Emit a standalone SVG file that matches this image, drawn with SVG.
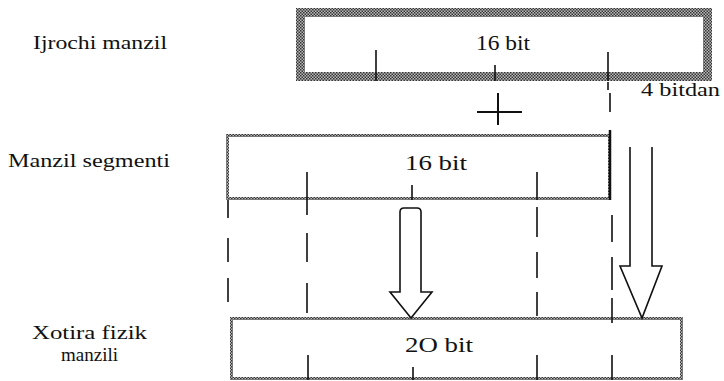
<svg xmlns="http://www.w3.org/2000/svg" width="724" height="381" viewBox="0 0 724 381">
<style>
text{font-family:"Liberation Serif","DejaVu Serif","Times New Roman",serif;fill:#111;}
.lbl{font-size:19px;}
.bx{font-size:21px;}
.tk{stroke:#111;stroke-width:1.6;fill:none;}
.ds{stroke:#111;stroke-width:1.6;fill:none;}
.ar{stroke:#111;stroke-width:1.6;fill:#fff;stroke-linejoin:miter;}
</style>
<defs>
<pattern id="dith" width="3" height="3" patternUnits="userSpaceOnUse">
<rect width="3" height="3" fill="#bbb"/>
<rect width="1.5" height="1.5" fill="#333"/>
<rect x="1.5" y="1.5" width="1.5" height="1.5" fill="#333"/>
</pattern>
</defs>
<rect width="724" height="381" fill="#fff"/>

<g id="labels">
<text class="lbl" x="33" y="49" textLength="134" lengthAdjust="spacingAndGlyphs" font-family="Liberation Serif, serif">Ijrochi manzil</text>
<text class="lbl" x="8" y="167" textLength="162" lengthAdjust="spacingAndGlyphs" font-family="Liberation Serif, serif">Manzil segmenti</text>
<text class="lbl" x="32" y="339" textLength="115" lengthAdjust="spacingAndGlyphs" font-family="Liberation Serif, serif">Xotira fizik</text>
<text class="lbl" x="61" y="361" textLength="57" lengthAdjust="spacingAndGlyphs" font-family="Liberation Serif, serif">manzili</text>
<text class="lbl" x="641" y="96" textLength="79" lengthAdjust="spacingAndGlyphs" font-family="Liberation Serif, serif">4 bitdan</text>
</g>

<g id="ijrochi">
<rect x="300.5" y="12.5" width="407" height="64" fill="none" stroke="url(#dith)" stroke-width="9"/>
<text class="bx" x="476" y="50" textLength="54" lengthAdjust="spacingAndGlyphs" font-family="Liberation Serif, serif">16 bit</text>
<path class="tk" d="M376,50V81 M495,65V81 M608,52V81"/>
</g>

<g id="segment">
<rect x="227.5" y="135.5" width="382" height="63" fill="none" stroke="url(#dith)" stroke-width="3"/>
<line x1="610" y1="130" x2="610" y2="200" stroke="#111" stroke-width="2.5"/>
<text class="bx" x="405" y="170" textLength="62" lengthAdjust="spacingAndGlyphs" font-family="Liberation Serif, serif">16 bit</text>
<path class="tk" d="M307,172V200 M412,185V200 M537,172V200"/>
</g>

<g id="fizik">
<rect x="231.5" y="318.5" width="450" height="60" fill="none" stroke="url(#dith)" stroke-width="3"/>
<text class="bx" x="405" y="352" textLength="68" lengthAdjust="spacingAndGlyphs" font-family="Liberation Serif, serif">2O bit</text>
<path class="tk" d="M308,355V380 M413,367V380 M537,355V380 M612,355V380"/>
</g>

<g id="plus">
<path d="M477,112H522 M498,93V125" stroke="#111" stroke-width="2" fill="none"/>
</g>

<g id="connectors">
<path class="ds" d="M608,82V90 M610,93V112"/>
<path class="ds" d="M228,200V218 M228,238V262 M228,278V302"/>
<path class="ds" d="M307,200V215 M307,233V262 M307,283V313"/>
<path class="ds" d="M537,207V237 M537,252V278 M537,292V316"/>
<path class="ds" d="M612,215V242 M612,257V290 M612,298V323"/>
<path class="ar" d="M400,292V212Q400,208 404,208H417Q421,208 421,212V292H432L411,318L390,292Z"/>
<path class="ar" d="M630,147V266H620L642,318L662,266H652V147" fill="none"/>
</g>
</svg>
